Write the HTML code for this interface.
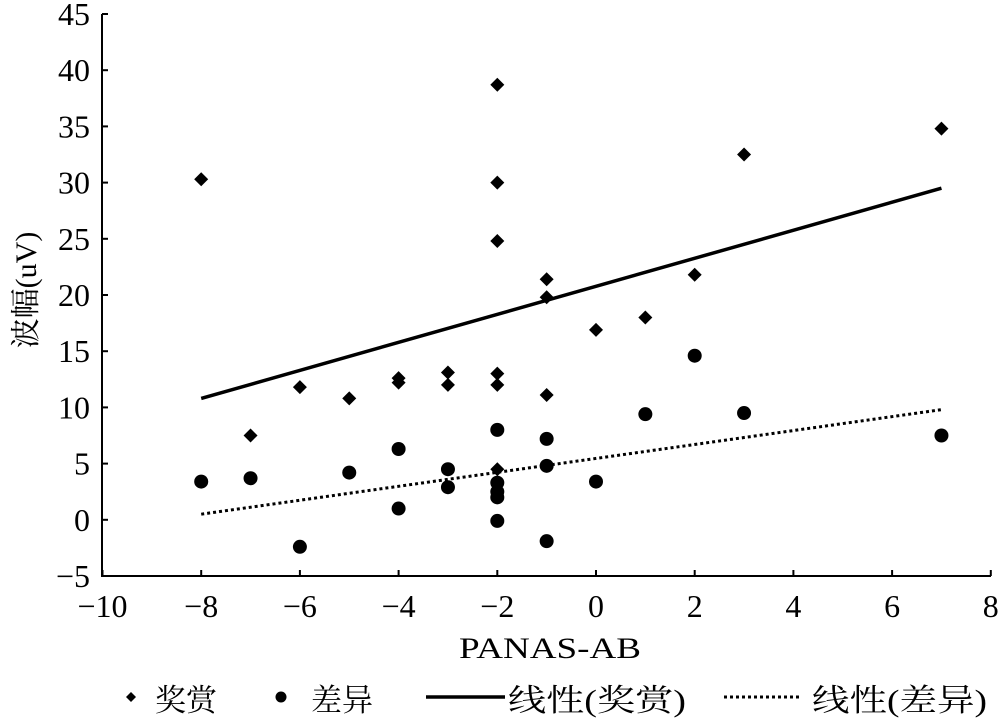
<!DOCTYPE html>
<html><head><meta charset="utf-8"><style>
body{margin:0;background:#fff;}
svg text{font-family:"Liberation Serif","Noto Serif CJK SC",serif;fill:#000;}
</style></head><body>
<svg id="s" width="1000" height="719" xmlns="http://www.w3.org/2000/svg"></svg>
<script>
const s=document.getElementById('s');
const X=v=>596+v*49.35, Y=v=>519.8-v*11.24;
let h='';
h+=`<line x1="102" y1="14" x2="102" y2="577" stroke="#000" stroke-width="2"/>`;
h+=`<line x1="101" y1="576" x2="991" y2="576" stroke="#000" stroke-width="2"/>`;
for(let v=-5;v<=45;v+=5){const y=Y(v);h+=`<line x1="102" y1="${y}" x2="108" y2="${y}" stroke="#000" stroke-width="2"/>`;
h+=`<text x="90" y="${y+11}" font-size="32" text-anchor="end">${v<0?'−'+(-v):v}</text>`;}
for(let v=-10;v<=8;v+=2){const x=X(v);h+=`<line x1="${x}" y1="570" x2="${x}" y2="576" stroke="#000" stroke-width="2"/>`;
h+=`<text x="${x}" y="617" font-size="32" text-anchor="middle">${v<0?'−'+(-v):v}</text>`;}
h+=`<text x="550" y="658" font-size="30" text-anchor="middle" textLength="182" lengthAdjust="spacingAndGlyphs">PANAS-AB</text>`;
h+=`<text transform="translate(36,290) rotate(-90)" font-size="30" text-anchor="middle">波幅(uV)</text>`;
const D=[[-8,30.3],[-7,7.5],[-6,11.8],[-5,10.8],[-4,12.6],[-4,12.2],[-3,13.1],[-3,12],[-2,38.7],[-2,30],[-2,24.8],[-2,13],[-2,12],[-2,4.5],[-1,21.4],[-1,19.8],[-1,11.1],[0,16.9],[1,18],[2,21.8],[3,32.5],[7,34.8]];
const C=[[-8,3.4],[-7,3.7],[-6,-2.4],[-5,4.2],[-4,6.3],[-4,1],[-3,4.5],[-3,2.9],[-2,8],[-2,3.3],[-2,2.5],[-2,2],[-2,-0.1],[-1,7.2],[-1,4.8],[-1,-1.9],[0,3.4],[1,9.4],[2,14.6],[3,9.5],[7,7.5]];
const dia=(x,y,r)=>`<polygon points="${x},${y-r} ${x+r},${y} ${x},${y+r} ${x-r},${y}" fill="#000"/>`;
D.forEach(p=>h+=dia(X(p[0]),Y(p[1]),7));
C.forEach(p=>h+=`<circle cx="${X(p[0])}" cy="${Y(p[1])}" r="7" fill="#000"/>`);
h+=`<line x1="${X(-8)}" y1="${Y(10.8)}" x2="${X(7)}" y2="${Y(29.5)}" stroke="#000" stroke-width="3.5"/>`;
h+=`<line x1="${X(-8)}" y1="${Y(0.5)}" x2="${X(7)}" y2="${Y(9.8)}" stroke="#000" stroke-width="3" stroke-dasharray="3,3"/>`;
// legend
const ly=697, ty=711;
h+=dia(131,ly,5)+`<text x="155" y="${ty}" font-size="31">奖赏</text>`;
h+=`<circle cx="281" cy="${ly}" r="5.5" fill="#000"/><text x="311" y="${ty}" font-size="31">差异</text>`;
h+=`<line x1="426" y1="${ly}" x2="505" y2="${ly}" stroke="#000" stroke-width="3.5"/><text x="508" y="${ty}" font-size="31" textLength="178" lengthAdjust="spacingAndGlyphs">线性(奖赏)</text>`;
h+=`<line x1="724" y1="${ly}" x2="801" y2="${ly}" stroke="#000" stroke-width="3" stroke-dasharray="3,3"/><text x="812" y="${ty}" font-size="31" textLength="175" lengthAdjust="spacingAndGlyphs">线性(差异)</text>`;
s.innerHTML=h;
</script>
</body></html>
